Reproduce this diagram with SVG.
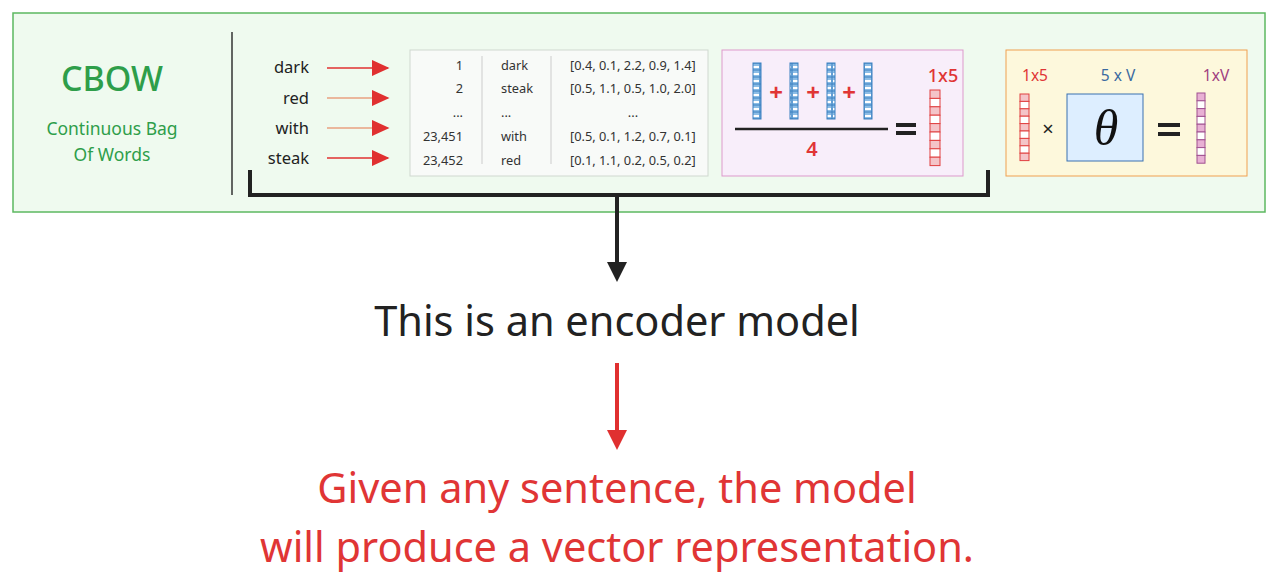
<svg xmlns="http://www.w3.org/2000/svg" width="1277" height="581" viewBox="0 0 1277 581">
<style>
text{font-family:"Noto Sans","Open Sans",sans-serif}
.w{font-size:16.5px;fill:#222;text-anchor:end}
.t{font-size:12.8px;fill:#333}
.r{fill:#e03535}
.rc{fill:#f4c4c8;stroke:#e04040;stroke-width:1}
.pc{fill:#e8b0d4;stroke:#a05090;stroke-width:1}
.eq{stroke:#222;stroke-width:4}
</style>
<defs>
<marker id="ra" markerWidth="12" markerHeight="11" refX="11" refY="5.5" orient="auto" markerUnits="strokeWidth"><path d="M0,0L12,5.5L0,11z" fill="#e03030"/></marker>
<marker id="ka" markerWidth="5" markerHeight="5" refX="4" refY="2.5" orient="auto" markerUnits="strokeWidth"><path d="M0,0L5,2.5L0,5z" fill="#222"/></marker>
<marker id="rb" markerWidth="5" markerHeight="5" refX="4" refY="2.5" orient="auto" markerUnits="strokeWidth"><path d="M0,0L5,2.5L0,5z" fill="#e03030"/></marker>
<pattern id="bp" width="8" height="7" patternUnits="userSpaceOnUse"><rect x="0" y="0" width="8" height="7" fill="#8cbde6" stroke="#3a80c0"/><rect x="1" y="3" width="6" height="2" fill="#fff"/></pattern>
</defs>
<rect x="13" y="13" width="1252" height="199" fill="#effaef" stroke="#5cb860" stroke-width="1.5"/>
<line x1="232" y1="32" x2="232" y2="195" stroke="#333" stroke-width="1.5"/>
<g id="title">
<text x="112" y="91" font-size="34" fill="#2e9e4a" text-anchor="middle" font-weight="500">CBOW</text>
<text x="112" y="135" font-size="17.5" fill="#2e9e4a" text-anchor="middle">Continuous Bag</text>
<text x="112" y="161" font-size="17.5" fill="#2e9e4a" text-anchor="middle">Of Words</text>
</g>
<g id="words">
<text class="w" x="309" y="73">dark</text>
<text class="w" x="309" y="104">red</text>
<text class="w" x="309" y="134">with</text>
<text class="w" x="309" y="164">steak</text>
</g>
<g id="connectors">
<line x1="327" y1="68" x2="388" y2="68" stroke="#e03030" stroke-width="1.5" marker-end="url(#ra)"/>
<line x1="327" y1="98" x2="388" y2="98" stroke="#e8a080" stroke-width="1.5" marker-end="url(#ra)"/>
<line x1="327" y1="128" x2="388" y2="128" stroke="#e8a080" stroke-width="1.5" marker-end="url(#ra)"/>
<line x1="327" y1="158" x2="388" y2="158" stroke="#e03030" stroke-width="1.5" marker-end="url(#ra)"/>
<path d="M250,170V195H988V170" fill="none" stroke="#222" stroke-width="4"/>
<line x1="617" y1="195" x2="617" y2="278" stroke="#222" stroke-width="4" marker-end="url(#ka)"/>
<line x1="617" y1="363" x2="617" y2="446" stroke="#e03030" stroke-width="4" marker-end="url(#rb)"/>
</g>
<g id="table">
<rect x="410" y="50" width="298" height="126" fill="#f8faf8" stroke="#d0d8d0"/>
<line x1="482" y1="56" x2="482" y2="164" stroke="#ccc"/>
<line x1="551" y1="56" x2="551" y2="164" stroke="#ccc"/>
<g class="t">
<text x="463" y="70" text-anchor="end">1</text><text x="501" y="70">dark</text><text x="570" y="70">[0.4, 0.1, 2.2, 0.9, 1.4]</text>
<text x="463" y="93" text-anchor="end">2</text><text x="501" y="93">steak</text><text x="570" y="93">[0.5, 1.1, 0.5, 1.0, 2.0]</text>
<text x="463" y="117" text-anchor="end">...</text><text x="501" y="117">...</text><text x="633" y="117" text-anchor="middle">...</text>
<text x="463" y="141" text-anchor="end">23,451</text><text x="501" y="141">with</text><text x="570" y="141">[0.5, 0.1, 1.2, 0.7, 0.1]</text>
<text x="463" y="165" text-anchor="end">23,452</text><text x="501" y="165">red</text><text x="570" y="165">[0.1, 1.1, 0.2, 0.5, 0.2]</text>
</g>
</g>
<g id="average">
<rect x="722" y="50" width="241" height="126" fill="#f8eefa" stroke="#dd99cc"/>
<rect x="753" y="63" width="8" height="56" fill="url(#bp)" stroke="#3a80c0"/>
<rect x="790" y="63" width="8" height="56" fill="url(#bp)" stroke="#3a80c0"/>
<rect x="827" y="63" width="8" height="56" fill="url(#bp)" stroke="#3a80c0"/>
<rect x="864" y="63" width="8" height="56" fill="url(#bp)" stroke="#3a80c0"/>
<text x="776" y="101" font-size="24" font-weight="bold" class="r" text-anchor="middle">+</text>
<text x="813" y="101" font-size="24" font-weight="bold" class="r" text-anchor="middle">+</text>
<text x="849" y="101" font-size="24" font-weight="bold" class="r" text-anchor="middle">+</text>
<line x1="735" y1="129" x2="888" y2="129" stroke="#222" stroke-width="2.5"/>
<text x="812" y="156" font-size="20" font-weight="600" class="r" text-anchor="middle">4</text>
<line x1="896" y1="125" x2="916" y2="125" class="eq"/><line x1="896" y1="133" x2="916" y2="133" class="eq"/>
<text x="943" y="82" font-size="18" font-weight="500" class="r" text-anchor="middle">1x5</text>
<g class="rc">
<rect x="930" y="90" width="10" height="8.4"/><rect x="930" y="98.4" width="10" height="8.4" fill="#fff"/><rect x="930" y="106.8" width="10" height="8.4"/><rect x="930" y="115.2" width="10" height="8.4" fill="#fff"/><rect x="930" y="123.6" width="10" height="8.4"/><rect x="930" y="132" width="10" height="8.4" fill="#fff"/><rect x="930" y="140.4" width="10" height="8.4"/><rect x="930" y="148.8" width="10" height="8.4" fill="#fff"/><rect x="930" y="157.2" width="10" height="8.4"/>
</g>
</g>
<g id="projection">
<rect x="1006" y="50" width="241" height="126" fill="#fdf8dc" stroke="#f0a050"/>
<text x="1035" y="81" font-size="15.5" class="r" text-anchor="middle">1x5</text>
<text x="1118" y="81" font-size="15.5" fill="#3a6aa0" text-anchor="middle">5 x V</text>
<text x="1216" y="81" font-size="15.5" fill="#a04080" text-anchor="middle">1xV</text>
<g class="rc">
<rect x="1020" y="94" width="9" height="7.4"/><rect x="1020" y="101.4" width="9" height="7.4" fill="#fff"/><rect x="1020" y="108.8" width="9" height="7.4"/><rect x="1020" y="116.2" width="9" height="7.4" fill="#fff"/><rect x="1020" y="123.6" width="9" height="7.4"/><rect x="1020" y="131" width="9" height="7.4" fill="#fff"/><rect x="1020" y="138.4" width="9" height="7.4"/><rect x="1020" y="145.8" width="9" height="7.4" fill="#fff"/><rect x="1020" y="153.2" width="9" height="7.4"/>
</g>
<text x="1048" y="136" font-size="20" fill="#222" text-anchor="middle">×</text>
<rect x="1067" y="94" width="76" height="67" fill="#ddeeff" stroke="#3a70b0"/>
<text x="1106" y="145" font-size="50" font-style="italic" fill="#111" text-anchor="middle" style="font-family:'Liberation Serif',serif">θ</text>
<line x1="1158" y1="125" x2="1180" y2="125" class="eq"/><line x1="1158" y1="134" x2="1180" y2="134" class="eq"/>
<g class="pc">
<rect x="1197" y="93" width="8" height="7.8"/><rect x="1197" y="100.8" width="8" height="7.8" fill="#fff"/><rect x="1197" y="108.6" width="8" height="7.8"/><rect x="1197" y="116.4" width="8" height="7.8" fill="#fff"/><rect x="1197" y="124.2" width="8" height="7.8"/><rect x="1197" y="132" width="8" height="7.8" fill="#fff"/><rect x="1197" y="139.8" width="8" height="7.8"/><rect x="1197" y="147.6" width="8" height="7.8" fill="#fff"/><rect x="1197" y="155.4" width="8" height="7.8"/>
</g>
</g>
<g id="encoder">
<text x="617" y="336" font-size="41.5" fill="#222" text-anchor="middle">This is an encoder model</text>
</g>
<g id="result">
<text x="617" y="503" font-size="41.5" class="r" text-anchor="middle">Given any sentence, the model</text>
<text x="617" y="562" font-size="41.5" class="r" text-anchor="middle">will produce a vector representation.</text>
</g>
</svg>
